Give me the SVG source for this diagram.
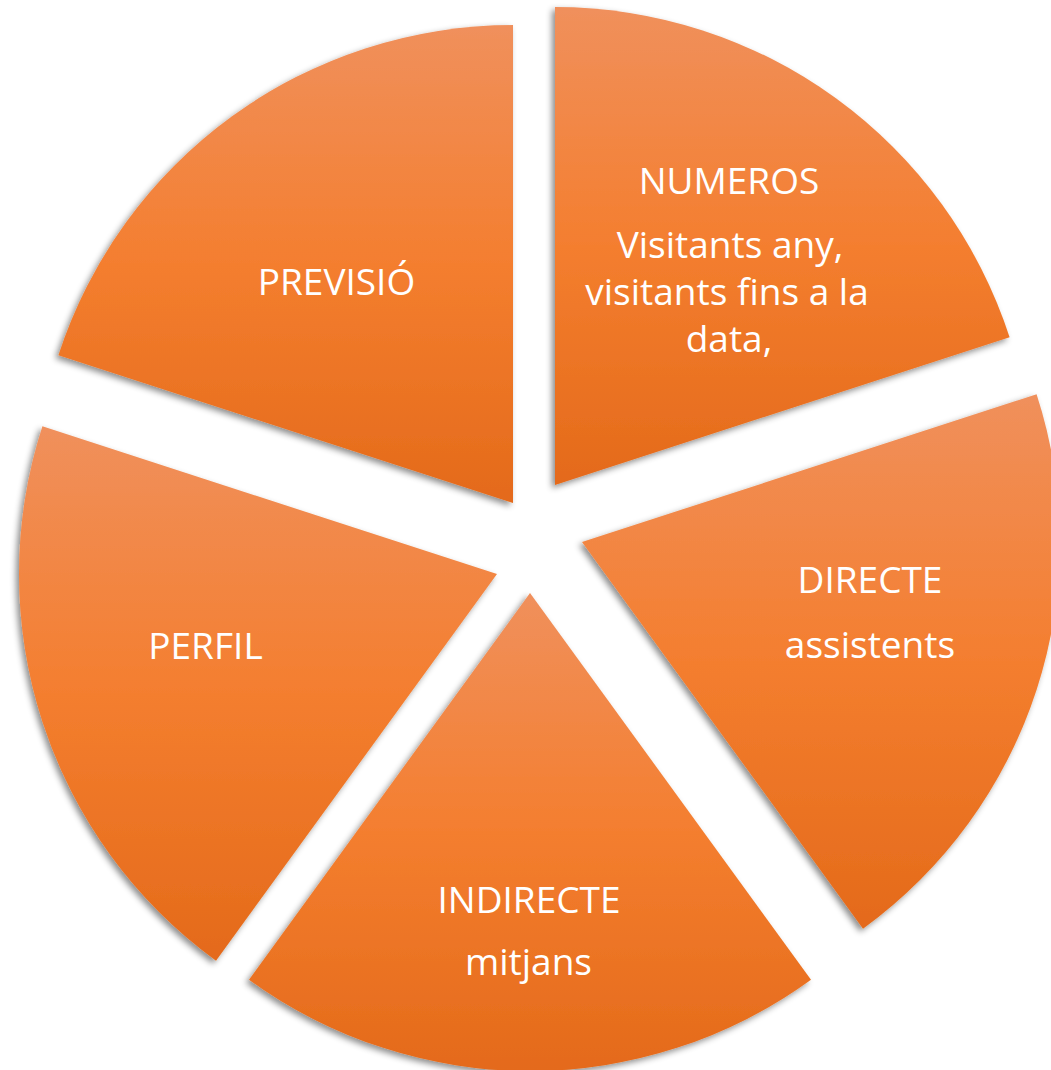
<svg xmlns="http://www.w3.org/2000/svg" width="1051" height="1070" viewBox="0 0 1051 1070">
<defs>
<linearGradient id="g" x1="0" y1="0" x2="0" y2="1">
<stop offset="0" stop-color="#F0905C"/>
<stop offset="0.5" stop-color="#F47E2F"/>
<stop offset="1" stop-color="#E46A1A"/>
</linearGradient>
<filter id="sh" x="-10%" y="-10%" width="120%" height="120%">
<feDropShadow dx="-3" dy="3" stdDeviation="3" flood-color="#000" flood-opacity="0.45"/>
</filter>
</defs>
<style>
.seg{fill:url(#g);filter:url(#sh)}
.t{font-family:"Open Sans","Noto Sans",sans-serif;font-size:37px;fill:#fff;text-anchor:middle}
</style>
<rect width="1051" height="1070" fill="#fff"/>
<g id="numeros">
<path class="seg" d="M555,485 L555,7 A478,478 0 0 1 1009.6,337.3 Z"/>
<text class="t" x="729" y="194">NUMEROS</text>
<text class="t" x="730" y="258">Visitants any,</text>
<text class="t" x="727" y="305">visitants fins a la</text>
<text class="t" x="729" y="352">data,</text>
</g>
<g id="directe">
<path class="seg" d="M582,542 L1036.6,394.3 A478,478 0 0 1 863,928.7 Z"/>
<text class="t" x="870" y="593">DIRECTE</text>
<text class="t" x="870" y="658">assistents</text>
</g>
<g id="indirecte">
<path class="seg" d="M530,593 L811,979.7 A478,478 0 0 1 249,979.7 Z"/>
<text class="t" x="529" y="913">INDIRECTE</text>
<text class="t" x="528.5" y="975">mitjans</text>
</g>
<g id="perfil">
<path class="seg" d="M497,574 L216,960.7 A478,478 0 0 1 42.4,426.3 Z"/>
<text class="t" x="205.5" y="659">PERFIL</text>
</g>
<g id="previsio">
<path class="seg" d="M513,503 L58.4,355.3 A478,478 0 0 1 513,25 Z"/>
<text class="t" x="336.5" y="295">PREVISIÓ</text>
</g>
<g id="connectors"/>
</svg>
